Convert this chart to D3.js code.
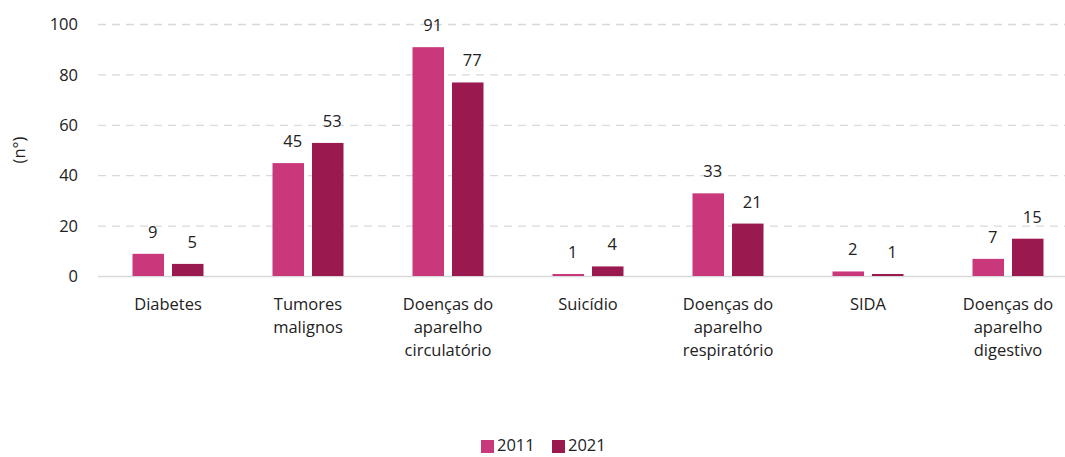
<!DOCTYPE html>
<html><head><meta charset="utf-8">
<script src="https://cdn.jsdelivr.net/npm/d3@7"></script>
<style>body{margin:0;background:#fff;}svg{display:block;font-family:"Open Sans","Noto Sans",sans-serif;}</style>
</head><body>
<svg id="c" width="1065" height="457"></svg>
<script>
const categories = [["Diabetes"],["Tumores","malignos"],["Doenças do","aparelho","circulatório"],["Suicídio"],["Doenças do","aparelho","respiratório"],["SIDA"],["Doenças do","aparelho","digestivo"]];
const seriesNames = ["2011","2021"];
const values2011 = [9,45,91,1,33,2,7];
const values2021 = [5,53,77,4,21,1,15];
const yTicks = [0,20,40,60,80,100];
const colors = ["#C9387A","#9A1A50"];

const svg = d3.select("#c");
const x = d3.scaleBand().domain(d3.range(categories.length)).range([98,1078]).paddingInner(0).paddingOuter(0);
const y = d3.scaleLinear().domain([0,100]).range([276.5,24.5]);
const bw = 31.5, gap = 8;
const fs = 16.5;

// gridlines
svg.append("g").selectAll("line").data(yTicks.filter(d=>d>0)).join("line")
  .attr("x1",98).attr("x2",1065).attr("y1",d=>y(d)).attr("y2",d=>y(d))
  .attr("stroke","#d9d9d9").attr("stroke-width",1.3).attr("stroke-dasharray","8,6");
// y labels
svg.append("g").selectAll("text").data(yTicks).join("text")
  .attr("x",78).attr("y",d=>y(d)).attr("dy","0.35em").attr("text-anchor","end")
  .attr("font-size",fs).attr("fill","#222").text(d=>d);
// baseline
svg.append("line").attr("x1",98).attr("x2",1065).attr("y1",y(0)).attr("y2",y(0))
  .attr("stroke","#d9d9d9").attr("stroke-width",1.5);

const series = [values2011, values2021];
series.forEach((vals,si)=>{
  const g = svg.append("g");
  const bx = i => x(i)+x.bandwidth()/2 + (si===0 ? -gap/2-bw : gap/2);
  g.selectAll("rect").data(vals).join("rect")
    .attr("x",(d,i)=>bx(i)).attr("width",bw)
    .attr("y",d=>y(d)).attr("height",d=>y(0)-y(d)-0.5)
    .attr("fill",colors[si]);
  g.selectAll("text").data(vals).join("text")
    .attr("x",(d,i)=>bx(i)+bw/2+4.5).attr("y",d=>y(d)-16)
    .attr("text-anchor","middle").attr("font-size",fs).attr("fill","#222").text(d=>d);
});

// category labels
const cg = svg.append("g");
categories.forEach((lines,i)=>{
  const t = cg.append("text").attr("x",x(i)+x.bandwidth()/2).attr("y",310)
    .attr("text-anchor","middle").attr("font-size",fs).attr("fill","#222");
  lines.forEach((l,j)=>t.append("tspan").attr("x",x(i)+x.bandwidth()/2).attr("dy",j===0?0:23).text(l));
});

// y title
svg.append("text").attr("transform","translate(25,150) rotate(-90)")
  .attr("text-anchor","middle").attr("font-size",fs).attr("fill","#222").text("(n°)");

// legend
const lx = [481,552];
seriesNames.forEach((s,i)=>{
  svg.append("rect").attr("x",lx[i]).attr("y",440).attr("width",13).attr("height",13).attr("fill",colors[i]);
  svg.append("text").attr("x",lx[i]+16).attr("y",451).attr("font-size",fs).attr("fill","#222").text(s);
});
</script>
</body></html>
